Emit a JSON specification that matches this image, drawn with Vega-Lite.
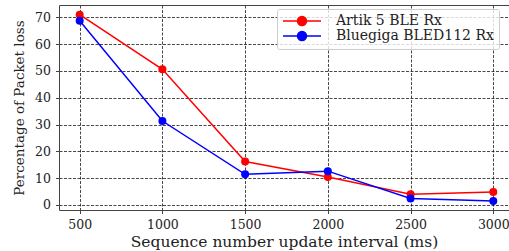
{
  "$schema": "https://vega.github.io/schema/vega-lite/v6.json",
  "width": 450,
  "height": 205,
  "autosize": {"type": "none"},
  "padding": {"left": 59, "top": 5, "right": 0, "bottom": 41},
  "config": {
    "view": {"stroke": null},
    "font": "'DejaVu Serif', 'Liberation Serif', serif",
    "axis": {
      "domainColor": "#444",
      "domainWidth": 1,
      "tickColor": "#444",
      "tickSize": 3.5,
      "tickWidth": 1,
      "labelColor": "#222",
      "labelFont": "'DejaVu Serif', 'Liberation Serif', serif",
      "labelFontSize": 12.5,
      "titleFont": "'DejaVu Serif', 'Liberation Serif', serif",
      "titleFontWeight": "normal",
      "titleColor": "#222",
      "gridColor": "#000",
      "gridDash": [3, 1.5],
      "gridWidth": 0.8,
      "gridOpacity": 0.9
    }
  },
  "data": {
    "values": [
      {"interval": 500, "loss": 71.0, "series": "Artik 5 BLE Rx"},
      {"interval": 1000, "loss": 50.6, "series": "Artik 5 BLE Rx"},
      {"interval": 1500, "loss": 16.2, "series": "Artik 5 BLE Rx"},
      {"interval": 2000, "loss": 10.4, "series": "Artik 5 BLE Rx"},
      {"interval": 2500, "loss": 4.0, "series": "Artik 5 BLE Rx"},
      {"interval": 3000, "loss": 4.8, "series": "Artik 5 BLE Rx"},
      {"interval": 500, "loss": 68.7, "series": "Bluegiga BLED112 Rx"},
      {"interval": 1000, "loss": 31.3, "series": "Bluegiga BLED112 Rx"},
      {"interval": 1500, "loss": 11.4, "series": "Bluegiga BLED112 Rx"},
      {"interval": 2000, "loss": 12.6, "series": "Bluegiga BLED112 Rx"},
      {"interval": 2500, "loss": 2.4, "series": "Bluegiga BLED112 Rx"},
      {"interval": 3000, "loss": 1.5, "series": "Bluegiga BLED112 Rx"}
    ]
  },
  "layer": [
    {
      "mark": {"type": "line", "strokeWidth": 1.5},
      "encoding": {
        "x": {
          "field": "interval", "type": "quantitative",
          "scale": {"domain": [375, 3095], "nice": false, "zero": false},
          "axis": {
            "values": [500, 1000, 1500, 2000, 2500, 3000],
            "format": "d",
            "title": "Sequence number update interval (ms)",
            "titleFontSize": 15.5,
            "grid": true, "labelPadding": 5, "titlePadding": 3
          }
        },
        "y": {
          "field": "loss", "type": "quantitative",
          "scale": {"domain": [-1.9, 74.6], "nice": false, "zero": false},
          "axis": {
            "values": [0, 10, 20, 30, 40, 50, 60, 70],
            "title": "Percentage of Packet loss",
            "titleFontSize": 13.5,
            "grid": true, "labelPadding": 5, "titlePadding": 8
          }
        },
        "color": {
          "field": "series", "type": "nominal",
          "scale": {"domain": ["Artik 5 BLE Rx", "Bluegiga BLED112 Rx"], "range": ["#ff0000", "#0000ff"]},
          "legend": {
            "title": null,
            "orient": "none",
            "legendX": 218,
            "legendY": 4,
            "padding": 5,
            "fillColor": "rgba(255,255,255,0.8)",
            "strokeColor": "#cccccc",
            "cornerRadius": 2,
            "symbolType": "M-1.2,0L6.4,0M1.7,0A0.9,0.9,0,1,1,3.5,0A0.9,0.9,0,1,1,1.7,0Z",
            "symbolSize": 100,
            "symbolStrokeWidth": 1.5,
            "labelOffset": 40,
            "labelFont": "'DejaVu Serif', 'Liberation Serif', serif",
            "labelFontSize": 14,
            "labelColor": "#222",
            "rowPadding": -1.7,
            "encode": {
              "symbols": {
                "update": {
                  "fill": {"scale": "color", "field": "value"},
                  "stroke": {"scale": "color", "field": "value"},
                  "strokeWidth": {"value": 1.5},
                  "opacity": {"value": 1}
                }
              }
            }
          }
        }
      }
    },
    {
      "mark": {"type": "point", "filled": true, "size": 64, "opacity": 1},
      "encoding": {
        "x": {
          "field": "interval", "type": "quantitative",
          "scale": {"domain": [375, 3095], "nice": false, "zero": false},
          "axis": {"orient": "top", "labels": false, "ticks": false, "grid": false, "title": null, "domain": true}
        },
        "y": {
          "field": "loss", "type": "quantitative",
          "scale": {"domain": [-1.9, 74.6], "nice": false, "zero": false},
          "axis": {
            "values": [0, 10, 20, 30, 40, 50, 60, 70],
            "title": "Percentage of Packet loss",
            "titleFontSize": 13.5,
            "grid": true, "labelPadding": 5, "titlePadding": 8
          }
        },
        "color": {"field": "series", "type": "nominal"}
      }
    }
  ],
  "resolve": {"axis": {"x": "independent"}}
}
